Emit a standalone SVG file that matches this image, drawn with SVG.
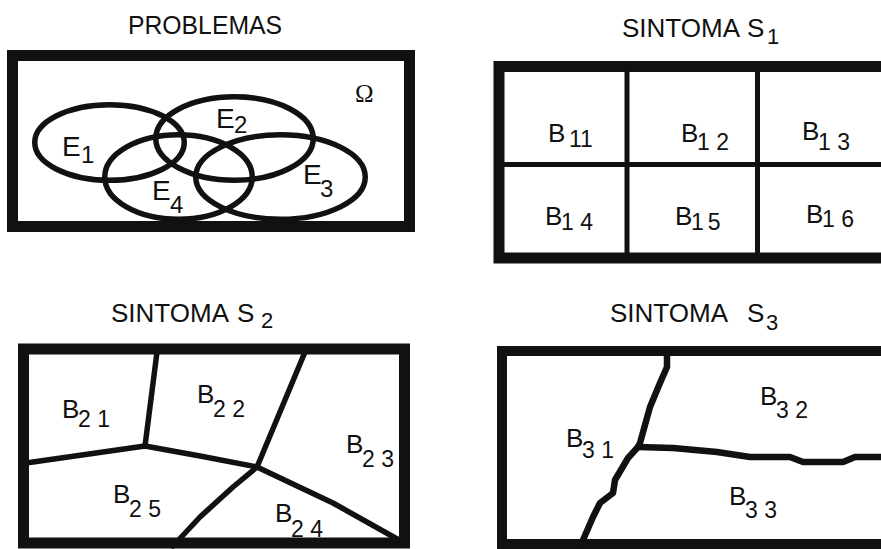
<svg xmlns="http://www.w3.org/2000/svg" width="881" height="549" viewBox="0 0 881 549">
<style>
  text { font-family: "Liberation Sans", Arial, sans-serif; fill: #111; }
  .title { font-size: 26px; }
  .tsub { font-size: 22px; }
  .b { font-size: 26px; }
  .sub { font-size: 23px; }
  .e { font-size: 28px; }
  .esub { font-size: 24px; }
  .frame { fill: #fff; stroke: #111; stroke-width: 11; }
  .line { fill: none; stroke: #111; stroke-width: 5.5; stroke-linejoin: round; stroke-linecap: round; }
  .line3 { fill: none; stroke: #111; stroke-width: 6.5; stroke-linejoin: round; stroke-linecap: round; }
  .div { fill: none; stroke: #111; stroke-width: 5; }
  .ell { fill: none; stroke: #111; stroke-width: 5.5; }
</style>
<rect width="881" height="549" fill="#fff"/>

<g id="problemas">
  <text class="title" x="128" y="34" textLength="154" lengthAdjust="spacingAndGlyphs">PROBLEMAS</text>
  <rect class="frame" x="12.5" y="55.5" width="397" height="171"/>
  <ellipse class="ell" cx="109.5" cy="142.5" rx="74.75" ry="37.75"/>
  <ellipse class="ell" cx="234.5" cy="138.5" rx="78.75" ry="41.75"/>
  <ellipse class="ell" cx="178.5" cy="177" rx="73.75" ry="42.25"/>
  <ellipse class="ell" cx="280.5" cy="177" rx="84.75" ry="42.25"/>
  <text class="e" x="62" y="156">E<tspan class="esub" x="81" y="163">1</tspan></text>
  <text class="e" x="216" y="128">E<tspan class="esub" x="234" y="133">2</tspan></text>
  <text class="e" x="303" y="184">E<tspan class="esub" x="320" y="197">3</tspan></text>
  <text class="e" x="152" y="200">E<tspan class="esub" x="170" y="213">4</tspan></text>
  <text x="355" y="102" style="font-family:'Liberation Serif','Times New Roman',serif;font-size:25px">Ω</text>
</g>

<g id="sintoma-s1">
  <text class="title" x="622" y="37">SINTOMA</text>
  <text class="title" x="747" y="37">S<tspan class="tsub" x="767" y="44">1</tspan></text>
  <rect class="frame" x="499" y="66.5" width="400" height="191.5"/>
  <line class="div" x1="627" y1="66" x2="627" y2="258"/>
  <line class="div" x1="757.5" y1="66" x2="757.5" y2="258"/>
  <line class="div" x1="499" y1="164.5" x2="881" y2="164.5"/>
  <text class="b" x="548" y="142">B<tspan class="sub" x="569" y="147">11</tspan></text>
  <text class="b" x="681" y="142">B<tspan class="sub" x="697" y="150">1 2</tspan></text>
  <text class="b" x="802" y="140">B<tspan class="sub" x="818" y="150">1 3</tspan></text>
  <text class="b" x="545" y="225">B<tspan class="sub" x="561" y="230">1 4</tspan></text>
  <text class="b" x="675" y="225">B<tspan class="sub" x="691" y="230" letter-spacing="4">15</tspan></text>
  <text class="b" x="806" y="223">B<tspan class="sub" x="822" y="227">1 6</tspan></text>
</g>

<g id="sintoma-s2">
  <text class="title" x="111" y="322">SINTOMA</text>
  <text class="title" x="237" y="322">S<tspan class="tsub" x="261" y="328">2</tspan></text>
  <rect class="frame" x="23.5" y="349" width="381" height="194"/>
  <text class="b" x="62" y="418">B<tspan class="sub" x="78" y="427">2 1</tspan></text>
  <text class="b" x="197" y="403">B<tspan class="sub" x="213" y="417">2 2</tspan></text>
  <text class="b" x="346" y="453">B<tspan class="sub" x="362" y="467">2 3</tspan></text>
  <text class="b" x="275" y="522">B<tspan class="sub" x="291" y="537">2 4</tspan></text>
  <text class="b" x="113" y="503">B<tspan class="sub" x="129" y="517">2 5</tspan></text>
</g>

<g id="sintoma-s3">
  <text class="title" x="610" y="322">SINTOMA</text>
  <text class="title" x="747" y="322">S<tspan class="tsub" x="766" y="330">3</tspan></text>
  <rect class="frame" x="502" y="351" width="400" height="193" style="stroke-width:10"/>
  <text class="b" x="566" y="447">B<tspan class="sub" x="582" y="458">3 1</tspan></text>
  <text class="b" x="760" y="405">B<tspan class="sub" x="776" y="418">3 2</tspan></text>
  <text class="b" x="729" y="505">B<tspan class="sub" x="745" y="518">3 3</tspan></text>
</g>

<g id="connectors">
  <!-- S2 partition -->
  <polyline class="line" points="157,352 145,446"/>
  <polyline class="line" points="26,463 145,446"/>
  <polyline class="line" points="145,446 200,456 257,467"/>
  <polyline class="line" points="305,352 257,467"/>
  <polyline class="line" points="257,467 233,487 200,517 173,546"/>
  <polyline class="line" points="257,467 333,503 399,540"/>
  <!-- S3 partition -->
  <polyline class="line3" points="667,355 667,367 660,383 650,407 640,443 638,447 628,458 615,480 613,493 600,503 593,517 583,540 580,546"/>
  <polyline class="line3" points="638,447 673,448 717,452 750,457 790,457 803,462 843,462 855,457 881,457"/>
</g>
</svg>
